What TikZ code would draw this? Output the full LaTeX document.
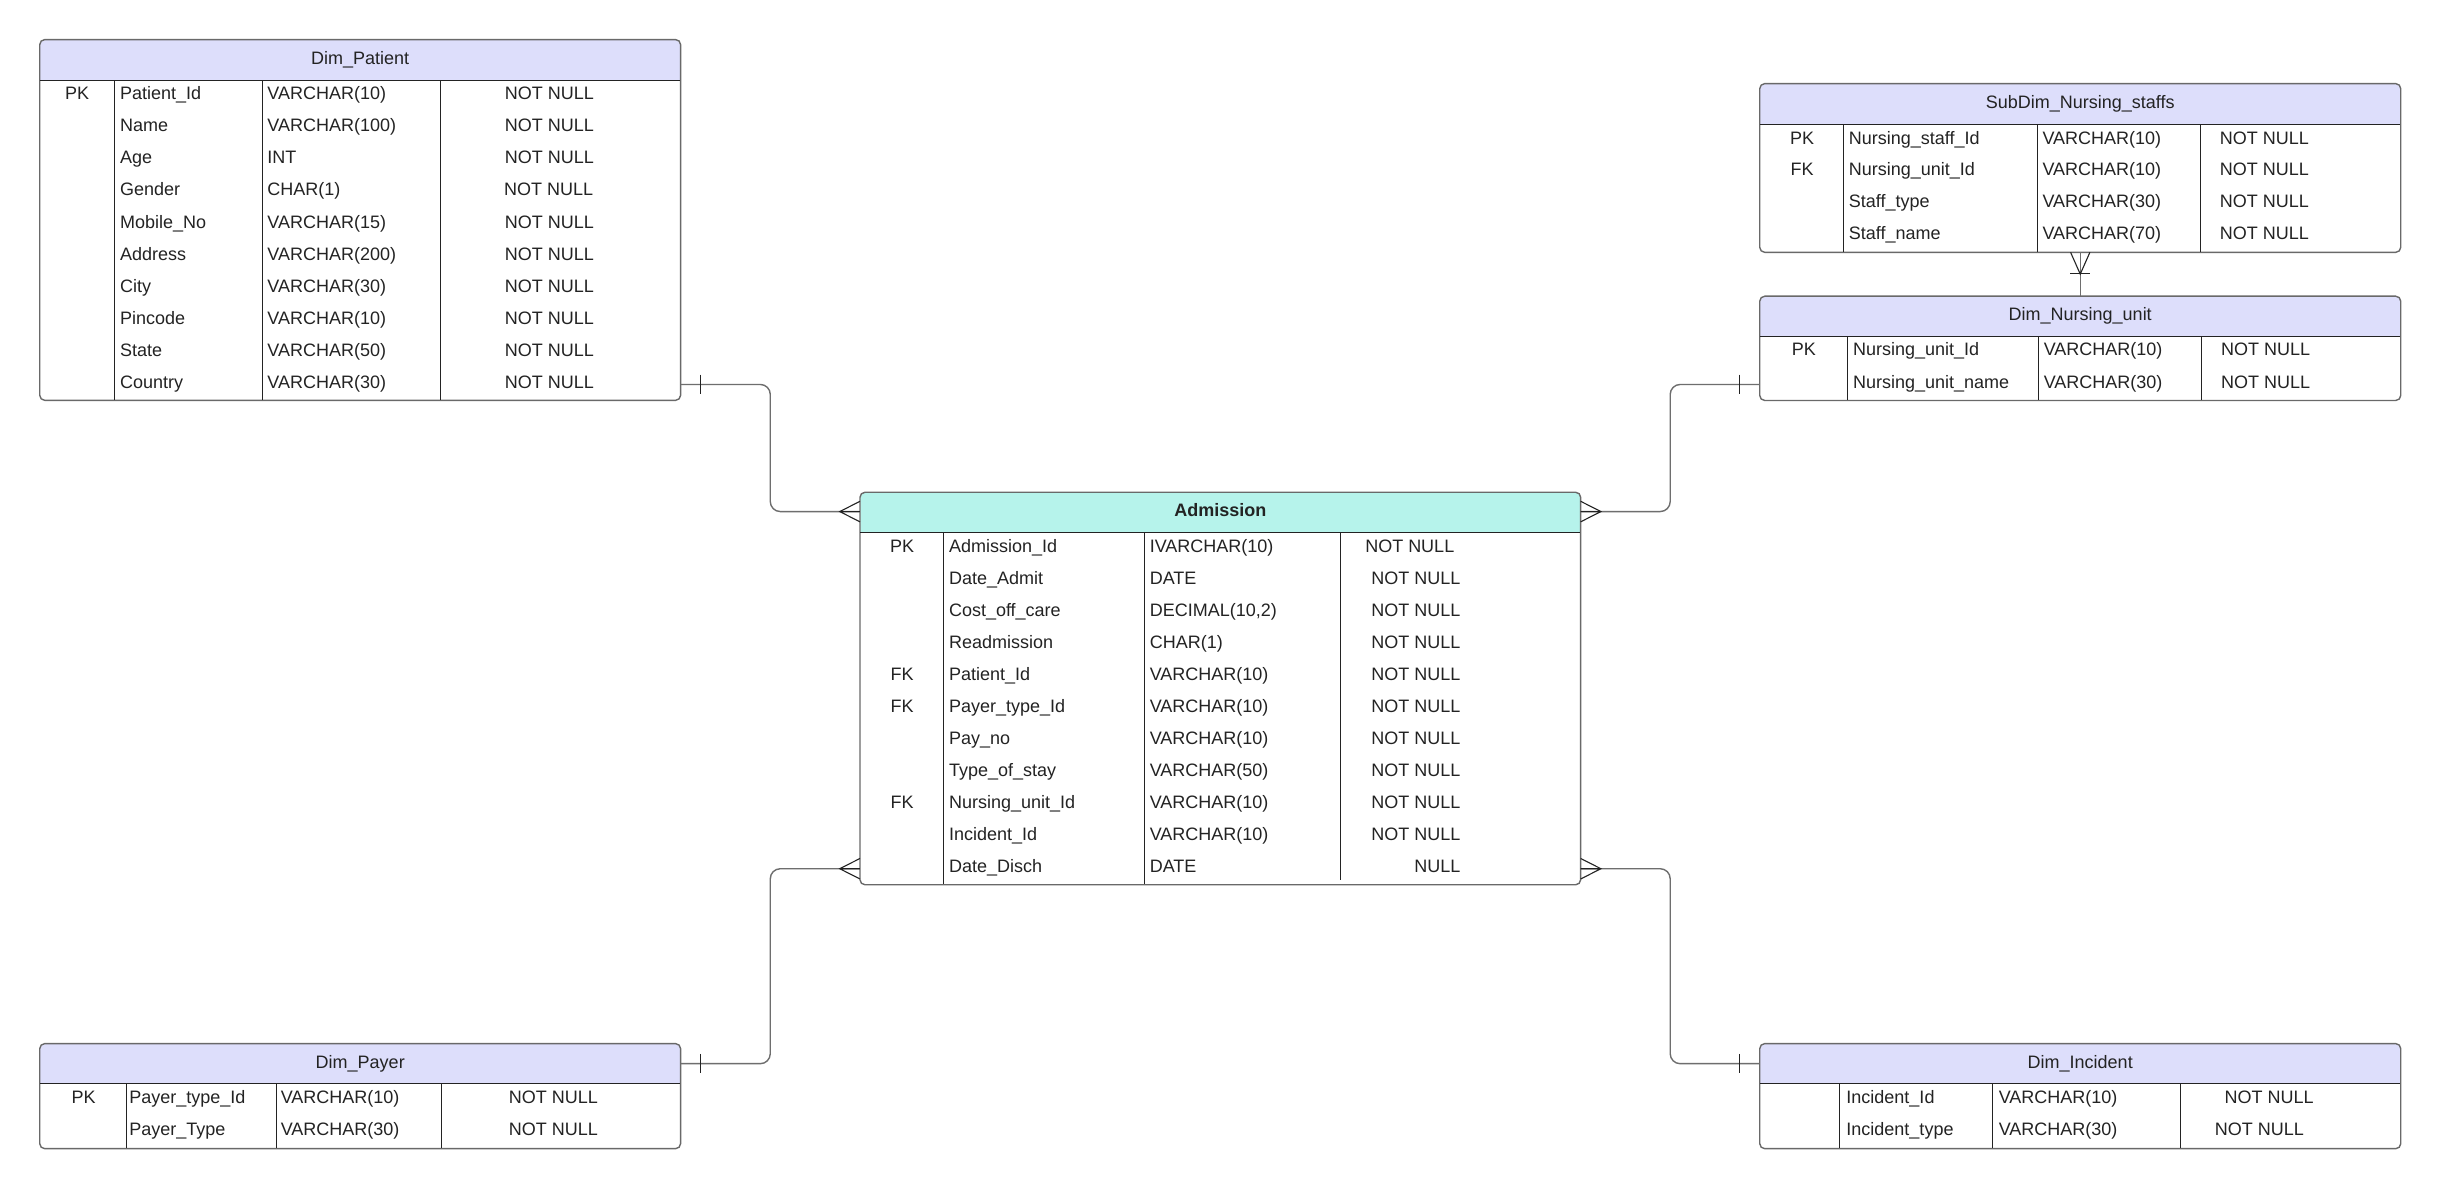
\documentclass[tikz,border=0pt]{standalone}
\usepackage{fontspec}
\setmainfont{Liberation Sans}
\usetikzlibrary{fit,calc}
\definecolor{hdr}{RGB}{221,222,251}
\definecolor{hdradm}{RGB}{182,243,235}
\definecolor{bordc}{RGB}{105,105,105}
\definecolor{sepc}{RGB}{35,35,35}
\definecolor{txtc}{RGB}{35,35,35}
\definecolor{linkc}{RGB}{110,110,110}
\tikzset{
 cell/.style={inner sep=0pt, font=\fontsize{9}{10}\selectfont, text=txtc, text height=6.45pt, text depth=0pt},
 tblborder/.style={draw=bordc, line width=0.7pt, rounded corners=2.5pt},
 sepline/.style={draw=sepc, line width=0.5pt},
 link/.style={draw=linkc, line width=0.7pt, rounded corners=5pt},
 tickline/.style={draw=sepc, line width=0.55pt},
}
% name, x1, y1, x2, y2, header bottom y, fill
\newcommand\ertable[7]{%
 \begin{scope}
  \clip[rounded corners=2.5pt] (#2,#3) rectangle (#4,#5);
  \fill[#7] (#2,#3) rectangle (#4,#6);
 \end{scope}
 \node[fit={(#2,#3)(#4,#5)}, inner sep=0pt] (#1) {};
 \draw[tblborder] (#1.north west) rectangle (#1.south east);
 \draw[sepline] (#2,#6) -- (#4,#6);
}
% prefix, name x, type x, constraint style, list y/name/type/constraint/cx
\newcommand\errows[5]{%
 \foreach \ry/\rn/\rt/\rc/\rx [count=\ri] in {#5} {
  \node[cell, anchor=west] (#1-n\ri) at (#2,\ry) {\rn};
  \node[cell, anchor=west] (#1-t\ri) at (#3,\ry) {\rt};
  \node[cell, #4] (#1-c\ri) at (\rx,\ry) {\rc};
 }}
\begin{document}
\begin{tikzpicture}[x=0.778061pt, y=-0.778061pt]
\useasboundingbox (0,0) rectangle (1568,763.45);
\fill[white] (0,0) rectangle (1568,763.45);

% ---------------- Dim_Patient
\ertable{pat}{25.8}{25.7}{437.1}{257}{51.8}{hdr}
\foreach \sx in {73.4,168.6,282.9} \draw[sepline] (\sx,51.8) -- (\sx,257);
\node[cell] (pat-title) at (231.5,37.3) {Dim\_Patient};
\node[cell] (pat-k1) at (49.5,60.0) {PK};
\errows{pat}{76.9}{171.6}{}{60.0/Patient\_Id/VARCHAR(10)/NOT NULL/353,
 80.6/Name/VARCHAR(100)/NOT NULL/353,
 101.2/Age/INT/NOT NULL/353,
 121.8/Gender/CHAR(1)/NOT NULL/352.5,
 142.4/Mobile\_No/VARCHAR(15)/NOT NULL/353,
 162.95/Address/VARCHAR(200)/NOT NULL/353,
 183.5/City/VARCHAR(30)/NOT NULL/353,
 204.1/Pincode/VARCHAR(10)/NOT NULL/353,
 224.7/State/VARCHAR(50)/NOT NULL/353,
 245.3/Country/VARCHAR(30)/NOT NULL/353}

% ---------------- Admission
\ertable{adm}{552.9}{316.6}{1015.5}{568.3}{342.1}{hdradm}
\foreach \sx in {606.1,735.4} \draw[sepline] (\sx,342.1) -- (\sx,568.3);
\draw[sepline] (861.6,342.1) -- (861.6,565.5);
\node[cell, font=\fontsize{9}{10}\selectfont\bfseries] (adm-title) at (784.2,327.6) {Admission};
\node[cell] (adm-k1) at (579.7,350.7) {PK};
\node[cell] (adm-k5) at (579.7,432.9) {FK};
\node[cell] (adm-k6) at (579.7,453.5) {FK};
\node[cell] (adm-k9) at (579.7,515.2) {FK};
\errows{adm}{609.6}{738.6}{anchor=east}{350.7/Admission\_Id/IVARCHAR(10)/NOT NULL/934.8,
 371.3/Date\_Admit/DATE/NOT NULL/938.7,
 391.8/Cost\_off\_care/{DECIMAL(10,2)}/NOT NULL/938.7,
 412.4/Readmission/CHAR(1)/NOT NULL/938.7,
 432.9/Patient\_Id/VARCHAR(10)/NOT NULL/938.7,
 453.5/Payer\_type\_Id/VARCHAR(10)/NOT NULL/938.7,
 474.1/Pay\_no/VARCHAR(10)/NOT NULL/938.7,
 494.6/Type\_of\_stay/VARCHAR(50)/NOT NULL/938.7,
 515.2/Nursing\_unit\_Id/VARCHAR(10)/NOT NULL/938.7,
 535.7/Incident\_Id/VARCHAR(10)/NOT NULL/938.7,
 556.3/Date\_Disch/DATE/NULL/938.7}

% ---------------- SubDim_Nursing_staffs
\ertable{ns}{1131.1}{54.0}{1542.5}{161.9}{79.9}{hdr}
\foreach \sx in {1184.6,1309.4,1414.0} \draw[sepline] (\sx,79.9) -- (\sx,161.9);
\node[cell] (ns-title) at (1336.8,65.5) {SubDim\_Nursing\_staffs};
\node[cell] (ns-k1) at (1158.1,88.5) {PK};
\node[cell] (ns-k2) at (1158.1,108.9) {FK};
\errows{ns}{1187.9}{1312.3}{}{88.5/Nursing\_staff\_Id/VARCHAR(10)/NOT NULL/1455.1,
 108.9/Nursing\_unit\_Id/VARCHAR(10)/NOT NULL/1455.1,
 129.4/Staff\_type/VARCHAR(30)/NOT NULL/1455.1,
 149.9/Staff\_name/VARCHAR(70)/NOT NULL/1455.1}

% ---------------- Dim_Nursing_unit
\ertable{nu}{1131.1}{190.6}{1542.5}{257.1}{216.3}{hdr}
\foreach \sx in {1187.3,1310.1,1414.8} \draw[sepline] (\sx,216.3) -- (\sx,257.1);
\node[cell] (nu-title) at (1336.8,201.8) {Dim\_Nursing\_unit};
\node[cell] (nu-k1) at (1159.2,224.5) {PK};
\errows{nu}{1190.6}{1313.1}{}{224.5/Nursing\_unit\_Id/VARCHAR(10)/NOT NULL/1455.9,
 245.3/Nursing\_unit\_name/VARCHAR(30)/NOT NULL/1455.9}

% ---------------- Dim_Payer
\ertable{pay}{25.8}{670.9}{437.1}{737.9}{696.2}{hdr}
\foreach \sx in {81.2,177.5,283.5} \draw[sepline] (\sx,696.2) -- (\sx,737.9);
\node[cell] (pay-title) at (231.5,682.5) {Dim\_Payer};
\node[cell] (pay-k1) at (53.7,705.3) {PK};
\errows{pay}{82.9}{180.2}{}{705.3/Payer\_type\_Id/VARCHAR(10)/NOT NULL/355.6,
 725.5/Payer\_Type/VARCHAR(30)/NOT NULL/355.6}

% ---------------- Dim_Incident
\ertable{inc}{1131.1}{670.9}{1542.5}{737.9}{696.2}{hdr}
\foreach \sx in {1181.9,1280.4,1401.3} \draw[sepline] (\sx,696.2) -- (\sx,737.9);
\node[cell] (inc-title) at (1336.8,682.5) {Dim\_Incident};
\errows{inc}{1186.3}{1284.2}{}{705.3/Incident\_Id/VARCHAR(10)/NOT NULL/1458.2,
 725.5/Incident\_type/VARCHAR(30)/NOT NULL/1451.9}

% ---------------- connector end points
\coordinate (p1) at ($(pat.south east)+(0,-10.2)$);
\coordinate (a1) at ($(adm.north west)+(0,12.4)$);
\coordinate (n1) at ($(nu.south west)+(0,-10.3)$);
\coordinate (a2) at ($(adm.north east)+(0,12.4)$);
\coordinate (a3) at ($(adm.south west)+(0,-10.3)$);
\coordinate (y1) at ($(pay.north east)+(0,12.9)$);
\coordinate (a4) at ($(adm.south east)+(0,-10.3)$);
\coordinate (i1) at ($(inc.north west)+(0,12.9)$);

% ---------------- connectors
\draw[link] (p1) -| ($(p1)!0.5!(a1)$) |- (a1);
\draw[link] (n1) -| ($(n1)!0.5!(a2)$) |- (a2);
\draw[link] (a3) -| ($(a3)!0.5!(y1)$) |- (y1);
\draw[link] (a4) -| ($(a4)!0.5!(i1)$) |- (i1);
\draw[link] (ns.south) -- (nu.north);

% one-bars
\draw[tickline] ($(p1)+(13,-6.3)$) -- ($(p1)+(13,6.3)$);
\draw[tickline] ($(n1)+(-13,-6.3)$) -- ($(n1)+(-13,6.3)$);
\draw[tickline] ($(y1)+(13,-6.3)$) -- ($(y1)+(13,6.3)$);
\draw[tickline] ($(i1)+(-13,-6.3)$) -- ($(i1)+(-13,6.3)$);
\draw[tickline] ($(nu.north)+(-6.5,-14.3)$) -- ($(nu.north)+(6.5,-14.3)$);

% crow's feet
\draw[tickline] ($(a1)+(0,-6.6)$) -- ($(a1)+(-13,0)$) -- ($(a1)+(0,6.6)$) ($(a1)+(-13,0)$) -- (a1);
\draw[tickline] ($(a2)+(0,-6.6)$) -- ($(a2)+(13,0)$) -- ($(a2)+(0,6.6)$) ($(a2)+(13,0)$) -- (a2);
\draw[tickline] ($(a3)+(0,-6.6)$) -- ($(a3)+(-13,0)$) -- ($(a3)+(0,6.6)$) ($(a3)+(-13,0)$) -- (a3);
\draw[tickline] ($(a4)+(0,-6.6)$) -- ($(a4)+(13,0)$) -- ($(a4)+(0,6.6)$) ($(a4)+(13,0)$) -- (a4);
\draw[tickline] ($(ns.south)+(-6.2,0)$) -- ($(ns.south)+(0,14)$) -- ($(ns.south)+(6.2,0)$);
\end{tikzpicture}
\end{document}
